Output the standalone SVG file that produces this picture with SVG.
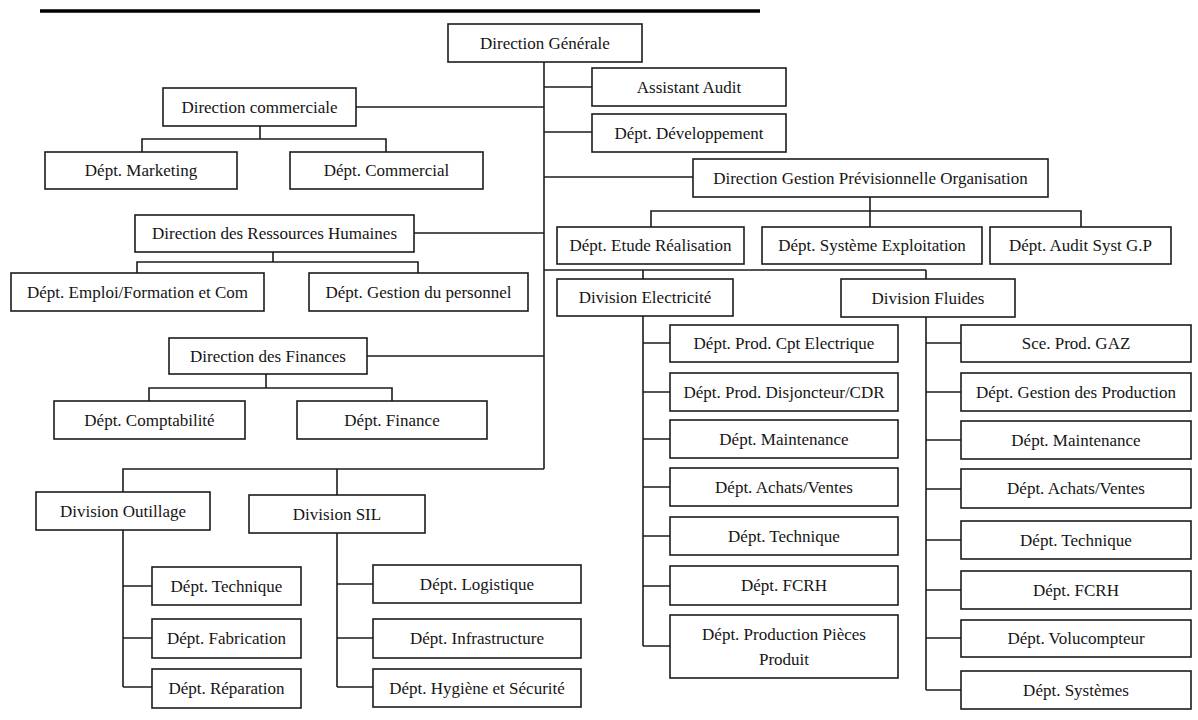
<svg xmlns="http://www.w3.org/2000/svg" width="1198" height="720" viewBox="0 0 1198 720">
<style>
.b{fill:#fff;stroke:#1c1c1c;stroke-width:1.6}
.t{font-family:"Liberation Serif","Times New Roman",serif;font-size:17px;fill:#151515;text-anchor:middle;dominant-baseline:central}
.c{fill:none;stroke:#1c1c1c;stroke-width:1.6}
</style>
<rect width="1198" height="720" fill="#fff"/>
<line x1="40" y1="11" x2="760" y2="11" stroke="#000" stroke-width="3.5"/>
<g id="connectors" class="c">
<path d="M544 62V469"/>
<path d="M544 87H592M544 132H592M356 107H544M544 177H693M414 233H544M367 356H544"/>
<path d="M260 126V139M142 152V139H386V152"/>
<path d="M870 197V211M651 227V211H1081V227M870 211V227"/>
<path d="M273 252V262M137 273V262H418V273"/>
<path d="M544 270H926M643 270V279M926 270V279"/>
<path d="M266 374V388M149 401V388H392V401"/>
<path d="M123 492V469H544M337 469V495"/>
<path d="M123 530V687M123 586H152M123 638H152M123 687H152"/>
<path d="M337 533V687M337 584H373M337 638H373M337 687H373"/>
<path d="M643 316V646M643 343H670M643 392H670M643 439H670M643 487H670M643 536H670M643 586H670M643 646H670"/>
<path d="M926 317V690M926 343H961M926 392H961M926 440H961M926 489H961M926 540H961M926 590H961M926 638H961M926 690H961"/>
</g>
<g id="n-dg"><rect class="b" x="448" y="24" width="194" height="38"/><text class="t" x="545" y="43">Direction Générale</text></g>
<g id="n-audit"><rect class="b" x="592" y="68" width="194" height="38"/><text class="t" x="689" y="87">Assistant Audit</text></g>
<g id="n-dev"><rect class="b" x="592" y="114" width="194" height="38"/><text class="t" x="689" y="133">Dépt. Développement</text></g>
<g id="n-dcom"><rect class="b" x="163" y="88" width="193" height="38"/><text class="t" x="259.5" y="107">Direction commerciale</text></g>
<g id="n-mkt"><rect class="b" x="45" y="152" width="192" height="37"/><text class="t" x="141" y="170.5">Dépt. Marketing</text></g>
<g id="n-comm"><rect class="b" x="290" y="152" width="193" height="37"/><text class="t" x="386.5" y="170.5">Dépt. Commercial</text></g>
<g id="n-dgpo"><rect class="b" x="693" y="159" width="355" height="38"/><text class="t" x="870.5" y="178">Direction Gestion Prévisionnelle Organisation</text></g>
<g id="n-etude"><rect class="b" x="557" y="227" width="187" height="37"/><text class="t" x="650.5" y="245.5">Dépt. Etude Réalisation</text></g>
<g id="n-sysexp"><rect class="b" x="762" y="227" width="220" height="37"/><text class="t" x="872" y="245.5">Dépt. Système Exploitation</text></g>
<g id="n-auditgp"><rect class="b" x="990" y="227" width="181" height="37"/><text class="t" x="1080.5" y="245.5">Dépt. Audit Syst G.P</text></g>
<g id="n-drh"><rect class="b" x="135" y="215" width="279" height="37"/><text class="t" x="274.5" y="233.5">Direction des Ressources Humaines</text></g>
<g id="n-emploi"><rect class="b" x="11" y="273" width="253" height="38"/><text class="t" x="137.5" y="292">Dépt. Emploi/Formation et Com</text></g>
<g id="n-gestper"><rect class="b" x="309" y="273" width="219" height="38"/><text class="t" x="418.5" y="292">Dépt. Gestion du personnel</text></g>
<g id="n-delec"><rect class="b" x="557" y="279" width="176" height="37"/><text class="t" x="645" y="297.5">Division Electricité</text></g>
<g id="n-dflu"><rect class="b" x="841" y="279" width="174" height="38"/><text class="t" x="928" y="298">Division Fluides</text></g>
<g id="n-dfin"><rect class="b" x="169" y="338" width="198" height="36"/><text class="t" x="268" y="356">Direction des Finances</text></g>
<g id="n-compta"><rect class="b" x="54" y="401" width="191" height="38"/><text class="t" x="149.5" y="420">Dépt. Comptabilité</text></g>
<g id="n-fin"><rect class="b" x="297" y="401" width="190" height="38"/><text class="t" x="392" y="420">Dépt. Finance</text></g>
<g id="n-dout"><rect class="b" x="36" y="492" width="174" height="38"/><text class="t" x="123" y="511">Division Outillage</text></g>
<g id="n-dsil"><rect class="b" x="249" y="495" width="176" height="38"/><text class="t" x="337" y="514">Division SIL</text></g>
<g id="n-otech"><rect class="b" x="152" y="567" width="149" height="38"/><text class="t" x="226.5" y="586">Dépt. Technique</text></g>
<g id="n-ofab"><rect class="b" x="152" y="619" width="149" height="39"/><text class="t" x="226.5" y="638.5">Dépt. Fabrication</text></g>
<g id="n-orep"><rect class="b" x="152" y="669" width="149" height="39"/><text class="t" x="226.5" y="688.5">Dépt. Réparation</text></g>
<g id="n-slog"><rect class="b" x="373" y="565" width="208" height="38"/><text class="t" x="477" y="584">Dépt. Logistique</text></g>
<g id="n-sinf"><rect class="b" x="373" y="619" width="208" height="39"/><text class="t" x="477" y="638.5">Dépt. Infrastructure</text></g>
<g id="n-shyg"><rect class="b" x="373" y="669" width="208" height="38"/><text class="t" x="477" y="688">Dépt. Hygiène et Sécurité</text></g>
<g id="n-e1"><rect class="b" x="670" y="325" width="228" height="37"/><text class="t" x="784" y="343.5">Dépt. Prod. Cpt Electrique</text></g>
<g id="n-e2"><rect class="b" x="670" y="373" width="228" height="38"/><text class="t" x="784" y="392">Dépt. Prod. Disjoncteur/CDR</text></g>
<g id="n-e3"><rect class="b" x="670" y="420" width="228" height="38"/><text class="t" x="784" y="439">Dépt. Maintenance</text></g>
<g id="n-e4"><rect class="b" x="670" y="468" width="228" height="38"/><text class="t" x="784" y="487">Dépt. Achats/Ventes</text></g>
<g id="n-e5"><rect class="b" x="670" y="517" width="228" height="38"/><text class="t" x="784" y="536">Dépt. Technique</text></g>
<g id="n-e6"><rect class="b" x="670" y="566" width="228" height="39"/><text class="t" x="784" y="585.5">Dépt. FCRH</text></g>
<g id="n-e7"><rect class="b" x="670" y="615" width="228" height="63"/><text class="t" x="784" y="634">Dépt. Production Pièces</text><text class="t" x="784" y="659">Produit</text></g>
<g id="n-f1"><rect class="b" x="961" y="325" width="230" height="37"/><text class="t" x="1076" y="343.5">Sce. Prod. GAZ</text></g>
<g id="n-f2"><rect class="b" x="961" y="373" width="230" height="38"/><text class="t" x="1076" y="392">Dépt. Gestion des Production</text></g>
<g id="n-f3"><rect class="b" x="961" y="421" width="230" height="38"/><text class="t" x="1076" y="440">Dépt. Maintenance</text></g>
<g id="n-f4"><rect class="b" x="961" y="469" width="230" height="39"/><text class="t" x="1076" y="488.5">Dépt. Achats/Ventes</text></g>
<g id="n-f5"><rect class="b" x="961" y="521" width="230" height="38"/><text class="t" x="1076" y="540">Dépt. Technique</text></g>
<g id="n-f6"><rect class="b" x="961" y="571" width="230" height="38"/><text class="t" x="1076" y="590">Dépt. FCRH</text></g>
<g id="n-f7"><rect class="b" x="961" y="620" width="230" height="37"/><text class="t" x="1076" y="638.5">Dépt. Volucompteur</text></g>
<g id="n-f8"><rect class="b" x="961" y="671" width="230" height="38"/><text class="t" x="1076" y="690">Dépt. Systèmes</text></g>
</svg>
